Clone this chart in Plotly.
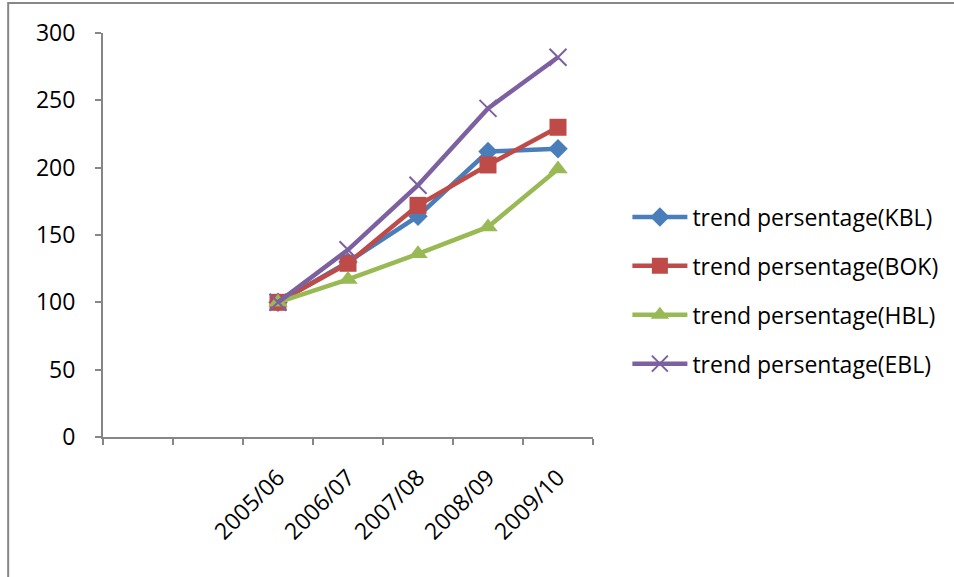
import plotly.graph_objects as go

categories = ["_b1", "_b2", "2005/06", "2006/07", "2007/08", "2008/09", "2009/10"]
tick_text = ["", "", "2005/06", "2006/07", "2007/08", "2008/09", "2009/10"]
years = ["2005/06", "2006/07", "2007/08", "2008/09", "2009/10"]

kbl = [100, 130, 164, 212, 214]
bok = [100, 129, 172, 202, 230]
hbl = [100, 117, 136, 156, 199]
ebl = [100, 139, 187, 244, 282]

names = ["trend persentage(KBL)", "trend persentage(BOK)",
         "trend persentage(HBL)", "trend persentage(EBL)"]
colors = ["#4A7EBB", "#BE4B48", "#98B954", "#7D60A0"]
symbols = ["diamond", "square", "triangle-up", "x-thin"]
sizes = [15, 17, 17, 17]
series = [kbl, bok, hbl, ebl]

FONT = "Open Sans"
fig = go.Figure()
for i, (nm, col, sym, sz, vals) in enumerate(zip(names, colors, symbols, sizes, series)):
    marker = dict(symbol=sym, size=sz, color=col)
    if sym == "x-thin":
        marker["line"] = dict(color=col, width=2)
    fig.add_trace(go.Scatter(
        x=years, y=vals, name=nm, mode="lines+markers",
        line=dict(color=col, width=4.5), marker=marker,
        legendgroup=f"g{i}",
    ))

fig.update_layout(
    width=954, height=577,
    margin=dict(l=103, r=360, t=33, b=140),
    paper_bgcolor="white", plot_bgcolor="white",
    font=dict(family=FONT, size=23, color="black"),
    showlegend=True,
    legend=dict(x=1.068, xanchor="left", y=0.3626, yanchor="middle",
                font=dict(family=FONT, size=23, color="black"),
                itemwidth=55,
                tracegroupgap=16, bgcolor="rgba(0,0,0,0)"),
    xaxis=dict(type="category", categoryorder="array", categoryarray=categories,
               tickvals=categories, ticktext=tick_text, range=[-0.5, 6.5],
               tickson="boundaries", ticks="outside", ticklen=6, tickwidth=2,
               tickcolor="#868686", showline=True, linecolor="#868686", linewidth=2,
               showgrid=False, zeroline=False, tickangle=-45, ticklabelstandoff=16,
               tickfont=dict(family=FONT, size=23)),
    yaxis=dict(range=[0, 300], tickvals=[0, 50, 100, 150, 200, 250, 300],
               ticks="outside", ticklen=6, tickwidth=2, tickcolor="#868686",
               showline=True, linecolor="#868686", linewidth=2,
               showgrid=False, zeroline=False, ticklabelstandoff=15,
               tickfont=dict(family=FONT, size=23)),
    shapes=[dict(type="rect", xref="paper", yref="paper",
                 x0=-0.1935, x1=3.0, y0=-2.0, y1=1.0743,
                 line=dict(color="#878787", width=2), layer="below")],
)

fig.write_html("out.html")
